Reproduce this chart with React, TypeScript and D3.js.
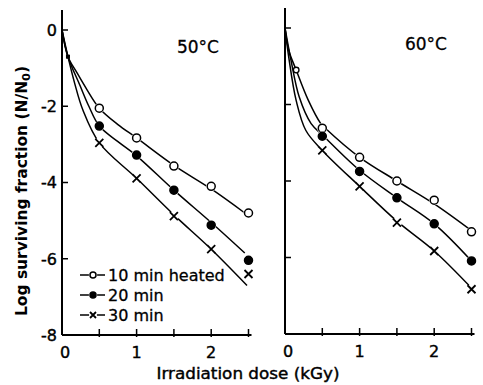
import React from "react";
import * as d3 from "d3";

// Measured survival (log N/N0) at each irradiation dose (kGy)
const doses = [0.5, 1, 1.5, 2, 2.5];

const obs50_10 = [-2.05, -2.83, -3.57, -4.1, -4.8];
const obs50_20 = [-2.52, -3.28, -4.2, -5.12, -6.04];
const obs50_30 = [-2.96, -3.89, -4.88, -5.75, -6.4];

const obs60_10 = [-2.62, -3.38, -4.0, -4.5, -5.33];
const obs60_20 = [-2.83, -3.75, -4.44, -5.12, -6.09];
const obs60_30 = [-3.2, -4.14, -5.09, -5.83, -6.83];

// Early common point near the origin
const early50 = { x: 0.08, y: -0.7 };
const early60 = { x: 0.15, y: -1.1 };

// Hand-fitted survival curves: [dose, log N/N0]
const fit50_10: [number, number][] = [[0, 0], [0.08, -0.7], [0.2, -1.12], [0.33, -1.55], [0.5, -2.05], [0.75, -2.48], [1, -2.83], [1.5, -3.55], [2, -4.17], [2.45, -4.8]];
const fit50_20: [number, number][] = [[0, 0], [0.08, -0.7], [0.24, -1.45], [0.36, -2.0], [0.5, -2.52], [0.75, -2.93], [1, -3.3], [1.5, -4.2], [2, -5.05], [2.45, -5.85]];
const fit50_30: [number, number][] = [[0, 0], [0.08, -0.7], [0.17, -1.4], [0.28, -2.1], [0.5, -2.96], [1, -3.89], [1.5, -4.85], [2, -5.75], [2.48, -6.7]];

const fit60_10: [number, number][] = [[0, 0], [0.05, -0.58], [0.15, -1.1], [0.31, -1.88], [0.48, -2.5], [0.53, -2.6], [1, -3.38], [1.5, -4.0], [2, -4.6], [2.5, -5.3]];
const fit60_20: [number, number][] = [[0, 0], [0.08, -0.84], [0.19, -1.8], [0.35, -2.5], [0.52, -2.83], [1, -3.72], [1.5, -4.44], [2, -5.12], [2.5, -6.09]];
const fit60_30: [number, number][] = [[0, 0], [0.05, -0.76], [0.15, -1.9], [0.28, -2.68], [0.5, -3.2], [1, -4.14], [1.5, -5.05], [2, -5.83], [2.5, -6.8]];

const yTickValues = [0, -2, -4, -6, -8];
const xTickValues = [0, 0.5, 1, 1.5, 2, 2.5];
const xLabelValues = [0, 1, 2];

const legendLabels = ["10 min heated", "20 min", "30 min"];
const panelTitles = ["50°C", "60°C"];

type Kind = "open" | "filled" | "cross";
const kinds: Kind[] = ["open", "filled", "cross"];

const FONT = "'DejaVu Sans', 'Liberation Sans', sans-serif";

function Marker({ x, y, kind, r = 4 }: { x: number; y: number; kind: Kind; r?: number }) {
  if (kind === "cross") {
    return (
      <g>
        <circle cx={x} cy={y} r={r + 1} fill="#fff" />
        <path d={`M${x - r},${y - r}L${x + r},${y + r}M${x - r},${y + r}L${x + r},${y - r}`} stroke="#000" strokeWidth={1.8} />
      </g>
    );
  }
  return (
    <g>
      <circle cx={x} cy={y} r={r + 1.2} fill="#fff" />
      <circle cx={x} cy={y} r={r} fill={kind === "filled" ? "#000" : "#fff"} stroke="#000" strokeWidth={1.5} />
    </g>
  );
}

function Panel({
  x0, x1, yTop, yBottom, axisTop, title, titleX, titleY, fits, obs, early, earlyOpen, showYLabels,
}: {
  x0: number; x1: number; yTop: number; yBottom: number; axisTop: number;
  title: string; titleX: number; titleY: number;
  fits: [number, number][][]; obs: number[][]; early: { x: number; y: number }; earlyOpen: boolean;
  showYLabels: boolean;
}) {
  const x = d3.scaleLinear().domain([0, 2.5]).range([x0, x1]);
  const y = d3.scaleLinear().domain([-8, 0]).range([yBottom, yTop]);
  const line = d3.line<[number, number]>().x((d) => x(d[0])).y((d) => y(d[1])).curve(d3.curveCatmullRom.alpha(0.5));
  return (
    <g>
      {/* axes */}
      <line x1={x0} x2={x0} y1={axisTop} y2={yBottom} stroke="#000" strokeWidth={2} />
      <line x1={x0} x2={x1 + 3} y1={yBottom} y2={yBottom} stroke="#000" strokeWidth={2} />
      {yTickValues.map((v) => (
        <line key={"yt" + v} x1={x0} x2={x0 + 6} y1={y(v)} y2={y(v)} stroke="#000" strokeWidth={1.5} />
      ))}
      {showYLabels &&
        yTickValues.map((v) => (
          <text key={"yl" + v} x={x0 - 5} y={y(v)} dy="0.36em" textAnchor="end" fontSize={16} fontFamily={FONT} stroke="#000" strokeWidth={0.4}>
            {v === 0 ? "0" : "-" + Math.abs(v)}
          </text>
        ))}
      {xTickValues.slice(1).map((v) => (
        <line key={"xt" + v} x1={x(v)} x2={x(v)} y1={yBottom + 2} y2={yBottom - 6} stroke="#000" strokeWidth={1.5} />
      ))}
      {xLabelValues.map((v) => (
        <text key={"xl" + v} x={x(v) + (v === 0 ? 3 : 0)} y={yBottom + 23} textAnchor="middle" fontSize={16} fontFamily={FONT} stroke="#000" strokeWidth={0.4}>
          {v}
        </text>
      ))}
      <text x={titleX} y={titleY} textAnchor="middle" fontSize={17} fontFamily={FONT} stroke="#000" strokeWidth={0.3}>
        {title}
      </text>
      {/* fitted curves */}
      {fits.map((f, i) => (
        <path key={"f" + i} d={line(f) || ""} fill="none" stroke="#000" strokeWidth={1.5} />
      ))}
      {/* observations */}
      {obs.map((s, i) =>
        s.map((v, j) => <Marker key={`m${i}-${j}`} x={x(doses[j])} y={y(v)} kind={kinds[i]} />)
      )}
      {earlyOpen ? (
        <circle cx={x(early.x)} cy={y(early.y)} r={2.8} fill="#fff" stroke="#000" strokeWidth={1.3} />
      ) : (
        <rect x={x(early.x) - 2} y={y(early.y) - 2} width={4} height={4} fill="#000" />
      )}
    </g>
  );
}

export default function App() {
  return (
    <svg width={483} height={385} style={{ position: "absolute", left: 0, top: 0, background: "#fff" }}>
      <rect width={483} height={385} fill="#fff" />
      <Panel x0={62} x1={248.5} yTop={30} yBottom={335} axisTop={10} title={panelTitles[0]} titleX={198} titleY={53}
        fits={[fit50_10, fit50_20, fit50_30]} obs={[obs50_10, obs50_20, obs50_30]} early={early50} earlyOpen={false} showYLabels={true} />
      <Panel x0={285} x1={471.5} yTop={28} yBottom={334} axisTop={8} title={panelTitles[1]} titleX={426} titleY={50}
        fits={[fit60_10, fit60_20, fit60_30]} obs={[obs60_10, obs60_20, obs60_30]} early={early60} earlyOpen={true} showYLabels={false} />
      {/* legend */}
      {legendLabels.map((l, i) => {
        const cy = 275 + i * 20;
        return (
          <g key={l}>
            <line x1={80} x2={105} y1={cy} y2={cy} stroke="#000" strokeWidth={1.5} />
            <Marker x={93} y={cy} kind={kinds[i]} r={3} />
            <text x={108} y={cy} dy="0.36em" fontSize={16} fontFamily={FONT} stroke="#000" strokeWidth={0.3}>
              {l}
            </text>
          </g>
        );
      })}
      {/* axis titles */}
      <text transform="translate(27,191) rotate(-90)" textAnchor="middle" fontSize={15} fontWeight="bold" fontFamily={FONT}
        textLength={250} lengthAdjust="spacingAndGlyphs">
        Log surviving fraction (N/N<tspan fontSize={11} dy={3}>0</tspan><tspan dy={-3}>)</tspan>
      </text>
      <text x={248} y={379} textAnchor="middle" fontSize={15} fontFamily={FONT} stroke="#000" strokeWidth={0.4}
        textLength={183} lengthAdjust="spacingAndGlyphs">
        Irradiation dose (kGy)
      </text>
    </svg>
  );
}
